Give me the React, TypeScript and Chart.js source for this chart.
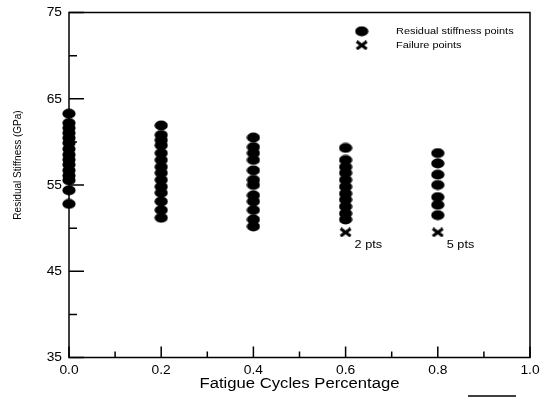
import React, { useEffect, useRef } from "react";
import { Chart, registerables } from "chart.js";

Chart.register(...registerables);

// ---- data ----
const columnX = [0, 0.2, 0.4, 0.6, 0.8];
const stiffAt00 = [63.27, 62.19, 61.61, 61.03, 60.45, 59.87, 59.18, 58.52, 57.94, 57.36, 56.7, 56.09, 55.55, 54.39, 52.81];
const stiffAt02 = [61.9, 60.8, 60.2, 59.6, 58.7, 57.9, 57.1, 56.4, 55.6, 54.8, 54.1, 53.1, 52.1, 51.2];
const stiffAt04 = [60.5, 59.4, 58.7, 57.9, 56.7, 55.6, 55.0, 53.8, 53.1, 52.1, 51.0, 50.2];
const stiffAt06 = [59.3, 57.9, 57.1, 56.4, 55.6, 54.8, 54.0, 53.3, 52.5, 51.7, 51.0];
const stiffAt08 = [58.7, 57.5, 56.2, 55.0, 53.6, 52.7, 51.5];
const stiffColumns = [stiffAt00, stiffAt02, stiffAt04, stiffAt06, stiffAt08];

const failureX = [0.6, 0.8];
const failureY = [49.5, 49.5];
const failureLabels = ["2 pts", "5 pts"];

const xMajorTicks = [0, 0.2, 0.4, 0.6, 0.8, 1.0];
const xMinorTicks = [0.1, 0.3, 0.5, 0.7, 0.9];
const xTickLabels = ["0.0", "0.2", "0.4", "0.6", "0.8", "1.0"];
const yMajorTicks = [35, 45, 55, 65, 75];
const yMinorTicks = [40, 50, 60, 70];
const yTickLabels = ["35", "45", "55", "65", "75"];

const xTitle = "Fatigue Cycles Percentage";
const yTitle = "Residual Stiffness (GPa)";
const legendLabels = ["Residual stiffness points", "Failure points"];

const FONT = "'Liberation Sans', Arial, Helvetica, sans-serif";
const SX = 1.15;

function makeEllipse(): HTMLCanvasElement {
  const c = document.createElement("canvas");
  c.width = 14;
  c.height = 11;
  const g = c.getContext("2d")!;
  g.fillStyle = "#000";
  g.beginPath();
  g.ellipse(7, 5.5, 6.6, 4.9, 0, 0, Math.PI * 2);
  g.fill();
  return c;
}

function makeCross(): HTMLCanvasElement {
  const c = document.createElement("canvas");
  c.width = 13;
  c.height = 10;
  const g = c.getContext("2d")!;
  g.strokeStyle = "#000";
  g.lineWidth = 3;
  g.lineCap = "butt";
  g.beginPath();
  g.moveTo(1.5, 1.2);
  g.lineTo(11.5, 8.8);
  g.moveTo(11.5, 1.2);
  g.lineTo(1.5, 8.8);
  g.stroke();
  return c;
}

function stretchedText(
  ctx: CanvasRenderingContext2D,
  text: string,
  x: number,
  y: number,
  size: number,
  align: CanvasTextAlign,
  baseline: CanvasTextBaseline,
  sx: number = SX
) {
  ctx.save();
  ctx.translate(x, y);
  ctx.scale(sx, 1);
  ctx.font = `${size}px ${FONT}`;
  ctx.fillStyle = "#000";
  ctx.textAlign = align;
  ctx.textBaseline = baseline;
  ctx.fillText(text, 0, 0);
  ctx.restore();
}

export default function App() {
  const ref = useRef<HTMLCanvasElement | null>(null);

  useEffect(() => {
    const canvas = ref.current;
    if (!canvas) return;
    const ellipse = makeEllipse();
    const cross = makeCross();

    const stiffPoints: { x: number; y: number }[] = [];
    stiffColumns.forEach((col, i) => col.forEach((v) => stiffPoints.push({ x: columnX[i], y: v })));
    const failPoints = failureX.map((x, i) => ({ x, y: failureY[i] }));

    const framePlugin = {
      id: "frame",
      beforeDatasetsDraw(chart: any) {
        const ctx: CanvasRenderingContext2D = chart.ctx;
        const xs = chart.scales.x;
        const ys = chart.scales.y;
        const left = xs.getPixelForValue(0);
        const right = xs.getPixelForValue(1);
        const top = ys.getPixelForValue(75);
        const bottom = ys.getPixelForValue(35);
        ctx.save();
        ctx.strokeStyle = "#000";
        ctx.lineWidth = 1.5;
        ctx.beginPath();
        ctx.rect(left, top, right - left, bottom - top);
        ctx.stroke();
        ctx.beginPath();
        xMajorTicks.forEach((v) => {
          const p = xs.getPixelForValue(v);
          ctx.moveTo(p, bottom);
          ctx.lineTo(p, bottom - 11);
        });
        xMinorTicks.forEach((v) => {
          const p = xs.getPixelForValue(v);
          ctx.moveTo(p, bottom);
          ctx.lineTo(p, bottom - 6);
        });
        yMajorTicks.forEach((v) => {
          const p = ys.getPixelForValue(v);
          ctx.moveTo(left, p);
          ctx.lineTo(left + 15, p);
        });
        yMinorTicks.forEach((v) => {
          const p = ys.getPixelForValue(v);
          ctx.moveTo(left, p);
          ctx.lineTo(left + 8, p);
        });
        ctx.stroke();
        // stray line at the bottom edge of the reference image
        ctx.beginPath();
        ctx.moveTo(468, 396);
        ctx.lineTo(516, 396);
        ctx.stroke();
        ctx.restore();
      },
      afterDraw(chart: any) {
        const ctx: CanvasRenderingContext2D = chart.ctx;
        const xs = chart.scales.x;
        const ys = chart.scales.y;
        const left = xs.getPixelForValue(0);
        const right = xs.getPixelForValue(1);
        const bottom = ys.getPixelForValue(35);
        xMajorTicks.forEach((v, i) => {
          stretchedText(ctx, xTickLabels[i], xs.getPixelForValue(v), bottom + 13, 12, "center", "middle");
        });
        yMajorTicks.forEach((v, i) => {
          stretchedText(ctx, yTickLabels[i], left - 7, ys.getPixelForValue(v) + 0.5, 12, "right", "middle");
        });
        stretchedText(ctx, xTitle, (left + right) / 2, 387.5, 14, "center", "alphabetic", 1.19);
        // y title, rotated
        ctx.save();
        ctx.translate(17.5, 165);
        ctx.rotate(-Math.PI / 2);
        ctx.scale(1, SX);
        ctx.font = `10px ${FONT}`;
        ctx.fillStyle = "#000";
        ctx.textAlign = "center";
        ctx.textBaseline = "middle";
        ctx.fillText(yTitle, 0, 0);
        ctx.restore();
        // failure annotations
        failureX.forEach((x, i) => {
          const px = xs.getPixelForValue(x);
          const py = ys.getPixelForValue(failureY[i]);
          stretchedText(ctx, failureLabels[i], px + 9, py + 12.5, 11, "left", "middle");
        });
        // legend
        ctx.drawImage(ellipse, 361.7 - 7, 31.3 - 5.5);
        ctx.drawImage(cross, 361.7 - 6.5, 45.3 - 5);
        stretchedText(ctx, legendLabels[0], 396, 31.7, 9.5, "left", "middle");
        stretchedText(ctx, legendLabels[1], 396, 45.7, 9.5, "left", "middle");
      },
    };

    const chart = new Chart(canvas, {
      type: "scatter",
      data: {
        datasets: [
          {
            label: legendLabels[0],
            data: stiffPoints,
            pointStyle: ellipse as any,
            pointRadius: 6,
            clip: false as any,
          },
          {
            label: legendLabels[1],
            data: failPoints,
            pointStyle: cross as any,
            pointRadius: 6,
            clip: false as any,
          },
        ],
      },
      options: {
        responsive: false,
        animation: false,
        layout: { padding: { left: 0, top: 12.5, right: 11, bottom: 0 } },
        plugins: { legend: { display: false }, tooltip: { enabled: false } },
        scales: {
          x: {
            type: "linear",
            min: 0,
            max: 1,
            ticks: { display: false },
            grid: { display: false },
            border: { display: false },
            afterFit: (s: any) => {
              s.height = 397 - 357.5;
            },
          },
          y: {
            type: "linear",
            min: 35,
            max: 75,
            ticks: { display: false },
            grid: { display: false },
            border: { display: false },
            afterFit: (s: any) => {
              s.width = 69;
            },
          },
        },
      },
      plugins: [framePlugin],
    });
    return () => chart.destroy();
  }, []);

  return (
    <div style={{ position: "fixed", left: 0, top: 0, width: 541, height: 397, background: "#fff" }}>
      <canvas ref={ref} width={541} height={397} style={{ display: "block" }} />
    </div>
  );
}
